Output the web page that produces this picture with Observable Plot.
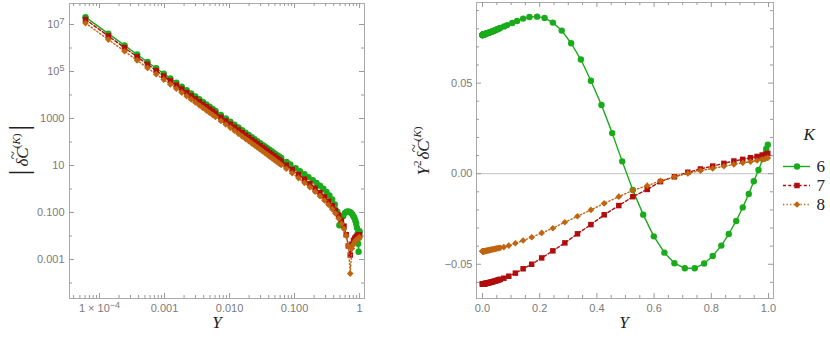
<!DOCTYPE html>
<html><head><meta charset="utf-8">
<script src="https://cdn.jsdelivr.net/npm/d3@7"></script>
<script src="https://cdn.jsdelivr.net/npm/@observablehq/plot@0.6"></script>
<style>
body{margin:0;background:#fff;}
#wrap{position:relative;width:830px;height:344px;overflow:hidden;background:#fff;}
#left{position:absolute;left:0;top:0;}
#right{position:absolute;left:400px;top:0;}
#legend{position:absolute;left:775px;top:105px;}
</style></head><body>
<div id="wrap"><div id="left"></div><div id="right"></div><div id="legend"></div></div>
<script>
// ---- data ----
const K = ["6", "7", "8"];
const colors = ["#1aab1a", "#b00d0d", "#c0650f"];
const symbols = ["circle", "square", "diamond2"];
const dashes = [null, "3,2.2", "1.3,2.2"];
const radii = [3.2, 3.1, 3.0];

// shared fine grid near Y = 0
const yDense = [0.000061, 0.000137, 0.000243, 0.00038, 0.000548, 0.000745, 0.000973, 0.00123, 0.00152, 0.00184,
  0.00219, 0.00257, 0.00298, 0.00342, 0.00389, 0.0044, 0.00493, 0.00549, 0.00608, 0.00736,
  0.00876, 0.0103, 0.0119, 0.0137, 0.0156, 0.0176, 0.0197, 0.022, 0.0243, 0.0268,
  0.0295, 0.0322, 0.035, 0.038, 0.0411, 0.0444, 0.0477, 0.0512, 0.0548, 0.0585, 0.0623];
// Y^2 dC values on that grid
const v6Dense = [0.0766, 0.0766, 0.0766, 0.0766, 0.0766, 0.0766, 0.0766, 0.0767, 0.0767, 0.0767,
  0.0767, 0.0768, 0.0768, 0.0768, 0.0768, 0.0769, 0.0769, 0.0769, 0.0769, 0.0770,
  0.0771, 0.0772, 0.0773, 0.0774, 0.0775, 0.0776, 0.0777, 0.0778, 0.0779, 0.0781,
  0.0782, 0.0784, 0.0786, 0.0788, 0.0790, 0.0792, 0.0794, 0.0797, 0.0799, 0.0802, 0.0805];
const v7Dense = [-0.0608, -0.0608, -0.0608, -0.0608, -0.0608, -0.0608, -0.0608, -0.0608, -0.0608, -0.0608,
  -0.0608, -0.0608, -0.0608, -0.0608, -0.0608, -0.0608, -0.0608, -0.0608, -0.0608, -0.0607,
  -0.0607, -0.0606, -0.0606, -0.0605, -0.0605, -0.0604, -0.0603, -0.0602, -0.0601, -0.0600,
  -0.0599, -0.0598, -0.0597, -0.0595, -0.0594, -0.0592, -0.0591, -0.0589, -0.0587, -0.0585, -0.0583];
const v8Dense = [-0.0428, -0.0428, -0.0428, -0.0428, -0.0428, -0.0428, -0.0428, -0.0428, -0.0428, -0.0428,
  -0.0428, -0.0428, -0.0428, -0.0428, -0.0428, -0.0428, -0.0428, -0.0428, -0.0428, -0.0428,
  -0.0427, -0.0427, -0.0426, -0.0426, -0.0425, -0.0424, -0.0423, -0.0423, -0.0422, -0.0421,
  -0.0420, -0.0419, -0.0418, -0.0417, -0.0416, -0.0415, -0.0414, -0.0412, -0.0411, -0.0410, -0.0409];

// coarse grid, K = 6
const yTail6 = [0.0755, 0.0863, 0.104, 0.121, 0.142, 0.164, 0.191, 0.217, 0.246, 0.277,
  0.31, 0.344, 0.379, 0.416, 0.4535, 0.4885, 0.5256, 0.5619, 0.599, 0.636,
  0.671, 0.7075, 0.742, 0.775, 0.805, 0.835, 0.861, 0.887, 0.91, 0.931,
  0.9486, 0.965, 0.98, 0.992, 0.9976];
const v6Tail = [0.0813, 0.0820, 0.0832, 0.0843, 0.0856, 0.0865, 0.0867, 0.0860, 0.0834, 0.0790,
  0.0720, 0.0630, 0.0513, 0.0379, 0.0224, 0.0068, -0.0090, -0.0226, -0.0346, -0.0436,
  -0.0494, -0.0522, -0.0522, -0.0496, -0.0454, -0.0397, -0.0333, -0.0261, -0.0186, -0.0112,
  -0.0042, 0.0020, 0.0081, 0.0136, 0.0160];

// coarse grid, K = 7 and K = 8
const yTail78 = [0.0746, 0.092, 0.115, 0.142, 0.172, 0.207, 0.246, 0.288, 0.332, 0.379,
  0.4255, 0.4766, 0.5256, 0.576, 0.6224, 0.671, 0.718, 0.762, 0.805, 0.844,
  0.879, 0.91, 0.937, 0.96, 0.978, 0.9895, 0.9976];
const v7Tail = [-0.0577, -0.0566, -0.0549, -0.0525, -0.0500, -0.0465, -0.0426, -0.0382, -0.0332, -0.0281,
  -0.0227, -0.0176, -0.0127, -0.0087, -0.0044, -0.0017, 0.0008, 0.0026, 0.0042, 0.0057,
  0.0070, 0.0079, 0.0088, 0.0095, 0.0103, 0.0108, 0.0112];
const v8Tail = [-0.0405, -0.0397, -0.0384, -0.0369, -0.0351, -0.0327, -0.0301, -0.0268, -0.0235, -0.0200,
  -0.0164, -0.0127, -0.0092, -0.0066, -0.0040, -0.0017, 0.00013, 0.0017, 0.0029, 0.0041,
  0.0051, 0.0060, 0.0066, 0.0073, 0.0079, 0.0083, 0.0087];

// ticks ("^" marks a superscript)
const xMajorL = [1e-4, 1e-3, 1e-2, 0.1, 1];
const xMajorLabelsL = ["1 × 10^−4", "0.001", "0.010", "0.100", "1"];
const yMajorL = [1e-3, 0.1, 10, 1000, 1e5, 1e7];
const yMajorLabelsL = ["0.001", "0.100", "10", "1000", "10^5", "10^7"];
const yMinorL = [1e-4, 1e-2, 1, 100, 1e4, 1e6];
const xMajorR = [0, 0.2, 0.4, 0.6, 0.8, 1];
const xMajorLabelsR = ["0.0", "0.2", "0.4", "0.6", "0.8", "1.0"];
const yMajorR = [-0.05, 0, 0.05];
const yMajorLabelsR = ["−0.05", "0.00", "0.05"];

// ---- build ----
function zip(ys, vs) { return ys.map((Y, i) => ({Y, v: vs[i]})); }
const series = [
  zip(yDense, v6Dense).concat(zip(yTail6, v6Tail)),
  zip(yDense, v7Dense).concat(zip(yTail78, v7Tail)),
  zip(yDense, v8Dense).concat(zip(yTail78, v8Tail))
];
const seriesAbs = series.map(s => s.map(d => ({Y: d.Y, v: Math.abs(d.v) / (d.Y * d.Y)})));

const xMinorL = [];
for (const e of [-5, -4, -3, -2, -1, 0]) for (let k = 2; k <= 9; k++) { const t = k * Math.pow(10, e); if (t > 3.5e-5 && t < 1.19) xMinorL.push(t); }
const xMinorR = d3.range(0, 21).map(i => i * 0.05).filter((t, i) => i % 4 !== 0);
const yMinorR = d3.range(-6, 10).map(i => i * 0.01).filter((t, i) => (i - 1) % 5 !== 0);

const tickColor = "#9a9a9a";
function frameTicks(innerW, innerH, xMaj, xMin, yMaj, yMin) {
  const M = 5, m = 3;
  return [
    Plot.tickX(xMaj, {x: d => d, stroke: tickColor, insetTop: innerH - M}),
    Plot.tickX(xMaj, {x: d => d, stroke: tickColor, insetBottom: innerH - M}),
    Plot.tickX(xMin, {x: d => d, stroke: tickColor, insetTop: innerH - m}),
    Plot.tickX(xMin, {x: d => d, stroke: tickColor, insetBottom: innerH - m}),
    Plot.tickY(yMaj, {y: d => d, stroke: tickColor, insetRight: innerW - M}),
    Plot.tickY(yMaj, {y: d => d, stroke: tickColor, insetLeft: innerW - M}),
    Plot.tickY(yMin, {y: d => d, stroke: tickColor, insetRight: innerW - m}),
    Plot.tickY(yMin, {y: d => d, stroke: tickColor, insetLeft: innerW - m})
  ];
}
function dataMarks(rowsArr) {
  const out = [];
  rowsArr.forEach((rows, i) => {
    out.push(Plot.line(rows, {x: "Y", y: "v", stroke: colors[i], strokeWidth: 1.4, strokeDasharray: dashes[i]}));
    out.push(Plot.dot(rows, {x: "Y", y: "v", fill: colors[i], symbol: symbols[i], r: radii[i]}));
  });
  return out;
}
const baseStyle = {fontFamily: "'Liberation Sans', Arial, sans-serif", fontSize: "11px", color: "#7a7a7a", background: "white", overflow: "visible"};

// turn "a^b" tick labels into real superscripts
function superscripts(svg) {
  d3.select(svg).selectAll("g[aria-label$='tick label'] text").each(function () {
    const txt = this.textContent;
    if (!txt.includes("^")) return;
    const [base, sup] = txt.split("^");
    const el = d3.select(this);
    el.text(null);
    el.append("tspan").text(base);
    el.append("tspan").attr("dy", "-0.45em").attr("font-size", "9px").text(sup);
  });
}

const mapL_x = new Map(xMajorL.map((d, i) => [d, xMajorLabelsL[i]]));
const mapL_y = new Map(yMajorL.map((d, i) => [d, yMajorLabelsL[i]]));
const left = Plot.plot({
  width: 400, height: 344, marginLeft: 69, marginRight: 36, marginTop: 3, marginBottom: 46,
  style: baseStyle,
  x: {type: "log", domain: [3.46e-5, 1.19]},
  y: {type: "log", domain: [2.19e-5, 7.83e7]},
  marks: [
    Plot.frame({stroke: "#aaa"}),
    ...frameTicks(295, 295, xMajorL, xMinorL, yMajorL, yMinorL),
    Plot.axisX(xMajorL, {anchor: "bottom", tickSize: 0, tickPadding: 6, label: null, tickFormat: d => mapL_x.get(d)}),
    Plot.axisY(yMajorL, {anchor: "left", tickSize: 0, tickPadding: 5, label: null, tickFormat: d => mapL_y.get(d)}),
    ...dataMarks(seriesAbs)
  ]
});
superscripts(left);
document.getElementById("left").append(left);

const mapR_x = new Map(xMajorR.map((d, i) => [d, xMajorLabelsR[i]]));
const mapR_y = new Map(yMajorR.map((d, i) => [d, yMajorLabelsR[i]]));
const right = Plot.plot({
  width: 380, height: 344, marginLeft: 76, marginRight: 7, marginTop: 2, marginBottom: 46,
  style: baseStyle,
  x: {domain: [-0.021, 1.0175]},
  y: {domain: [-0.0689, 0.0945]},
  marks: [
    Plot.ruleY([0], {stroke: "#cfcfcf", strokeWidth: 1.3}),
    Plot.frame({stroke: "#aaa"}),
    ...frameTicks(297, 296, xMajorR, xMinorR, yMajorR, yMinorR),
    Plot.axisX(xMajorR, {anchor: "bottom", tickSize: 0, tickPadding: 6, label: null, tickFormat: d => mapR_x.get(d)}),
    Plot.axisY(yMajorR, {anchor: "left", tickSize: 0, tickPadding: 4, label: null, tickFormat: d => mapR_y.get(d)}),
    ...dataMarks(series)
  ]
});
document.getElementById("right").append(right);

// axis titles
const serif = "'Liberation Serif', 'DejaVu Serif', serif";
function addTitles(svg, xLabelX, yLabelX, yLabelY, parts) {
  const s = d3.select(svg);
  s.append("text").attr("x", xLabelX).attr("y", 328).attr("text-anchor", "middle")
    .attr("font-family", serif).attr("font-style", "italic").attr("font-size", 17).attr("fill", "#222").text("Y");
  const t = s.append("text").attr("transform", `translate(${yLabelX},${yLabelY}) rotate(-90)`)
    .attr("text-anchor", "middle").attr("font-family", serif).attr("font-size", 17).attr("fill", "#222");
  for (const p of parts) {
    const ts = t.append("tspan").text(p.t);
    if (p.i) ts.attr("font-style", "italic");
    if (p.s) ts.attr("font-size", p.s);
    if (p.dy) ts.attr("dy", p.dy);
    if (p.dx) ts.attr("dx", p.dx);
  }
}
addTitles(left, 217, 28, 150, [
  {t: "|", s: 28}, {t: "δ", i: 1, dx: 3}, {t: "C", i: 1}, {t: "~", s: 15, dx: -12, dy: -10},
  {t: "(", s: 11, dx: 3, dy: 2}, {t: "K", s: 11, i: 1}, {t: ")", s: 11}, {t: "|", s: 28, dy: 8, dx: 3}
]);
addTitles(right, 224, 29, 151, [
  {t: "Y", i: 1}, {t: "2", s: 11, dy: -8}, {t: "δ", i: 1, dy: 8, dx: 1}, {t: "C", i: 1},
  {t: "~", s: 15, dx: -12, dy: -10}, {t: "(", s: 11, dx: 3, dy: 2}, {t: "K", s: 11, i: 1}, {t: ")", s: 11}
]);

// legend
const legendMarks = [];
K.forEach((k, i) => {
  legendMarks.push(Plot.ruleY([k], {y: d => d, x1: 0, x2: 1, stroke: colors[i], strokeWidth: 1.4, strokeDasharray: dashes[i]}));
  legendMarks.push(Plot.dot([k], {x: 0.5, y: d => d, fill: colors[i], symbol: symbols[i], r: radii[i]}));
});
legendMarks.push(Plot.text(K, {x: 1, y: d => d, text: d => d, dx: 6, textAnchor: "start", fontSize: 17, fontFamily: serif, fill: "#222"}));
legendMarks.push(Plot.text(["K"], {frameAnchor: "top-left", dx: 20, dy: 22, text: d => d, fontSize: 17, fontStyle: "italic", fontFamily: serif, fill: "#222"}));
const legend = Plot.plot({
  width: 55, height: 125, marginLeft: 8, marginRight: 20, marginTop: 0, marginBottom: 0,
  style: {background: "transparent", overflow: "visible"},
  x: {domain: [0, 1], axis: null},
  y: {type: "point", domain: K, range: [50, 109], axis: null},
  marks: legendMarks
});
document.getElementById("legend").append(legend);
</script>
</body></html>
